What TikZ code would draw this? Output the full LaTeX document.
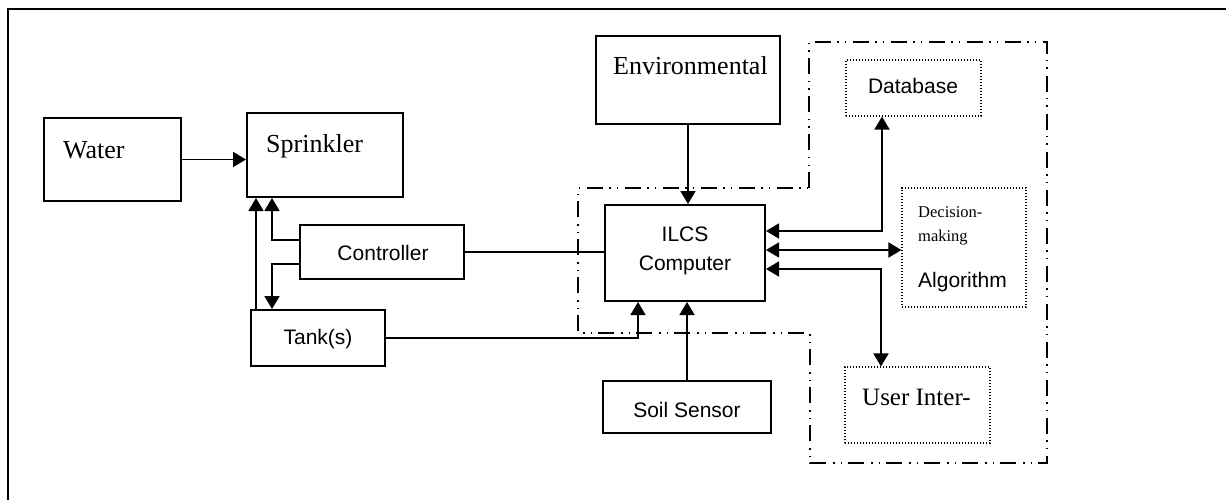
\documentclass[tikz,border=0pt]{standalone}
\usepackage{fontspec}
\setmainfont{Liberation Serif}
\setsansfont{Liberation Sans}
\usetikzlibrary{arrows.meta}
\begin{document}
\begin{tikzpicture}[x=1pt,y=-1pt,
  box/.style={draw,line width=2pt,inner sep=0pt,minimum width=#1},
  dbox/.style={draw,line width=1.1pt,dash pattern=on 1.1pt off 1.9pt,inner sep=0pt,minimum width=#1},
  tm/.style={inner sep=0pt,font=\fontsize{26}{30}\selectfont},
  tms/.style={inner sep=0pt,font=\fontsize{16.5}{20}\selectfont},
  ar/.style={inner sep=0pt,font=\sffamily\fontsize{21}{29}\selectfont},
  arr/.style={line width=1.8pt,-{Triangle[length=13pt,width=15pt]}},
  darr/.style={line width=1.8pt,{Triangle[length=13pt,width=15pt]}-{Triangle[length=13pt,width=15pt]}},
  ddot/.style={line width=1.6pt,dash pattern=on 16pt off 6pt on 1.5pt off 6pt on 1.5pt off 7pt}]
\useasboundingbox (0,0) rectangle (1226,500);
\draw[line width=2.2pt] (8,505) -- (8,9) -- (1230,9);
% boxes
\node[box=137pt,minimum height=83pt] (water) at (112.5,159.5) {};
\node[box=156pt,minimum height=84pt] (sprinkler) at (325,155) {};
\node[box=184pt,minimum height=88pt] (env) at (688,80) {};
\node[box=164pt,minimum height=54pt] (ctrl) at (382,252) {};
\node[box=134pt,minimum height=56pt] (tank) at (318,338) {};
\node[box=160pt,minimum height=96pt] (ilcs) at (685,253) {};
\node[box=168pt,minimum height=52pt] (soil) at (687,407) {};
\node[dbox=135pt,minimum height=56pt] (db) at (913.5,88) {};
\node[dbox=124pt,minimum height=119pt] (dec) at (964,247.5) {};
\node[dbox=145pt,minimum height=76pt] (user) at (917.5,405) {};
% texts
\node[tm,anchor=base west] (twater) at (63,159) {Water};
\node[tm,anchor=base west] (tspr) at (266,153) {Sprinkler};
\node[tm,anchor=base west] (tenv) at (613,75) {Environmental};
\node[ar,anchor=base] (tctrl) at (383,260) {Controller};
\node[ar,anchor=base] (ttank) at (318,344) {Tank(s)};
\node[ar,anchor=base] (tilcs1) at (685,241) {ILCS};
\node[ar,anchor=base] (tilcs2) at (685,270) {Computer};
\node[ar,anchor=base] (tsoil) at (687,417) {Soil Sensor};
\node[ar,anchor=base] (tdb) at (913,94) {Database};
\node[tms,anchor=base west] (tdec1) at (918,217) {Decision-};
\node[tms,anchor=base west] (tdec2) at (918,241) {making};
\node[ar,anchor=base west] (tdec3) at (918,287) {Algorithm};
\node[tm,anchor=base west,font=\fontsize{25}{30}\selectfont] (tuser) at (862,405) {User Inter-};
% dash-dot region
\draw[ddot] (809,188) -- (809,42) -- (1047,42) -- (1047,463) -- (810,463) -- (810,333) -- (578,333) -- (578,188) -- cycle;
% connectors
\draw[arr] (water.east) -- (sprinkler.west |- water.east);
\draw[arr] ([xshift=6pt]tank.north west) -- ([xshift=10pt]sprinkler.south west);
\draw[arr] ([yshift=12pt]ctrl.west) -| ([xshift=26pt]sprinkler.south west);
\draw[arr] ([yshift=-12pt]ctrl.west) -| ([xshift=22pt]tank.north west);
\draw[line width=1.1pt] (ctrl.east) -- (ilcs.west |- ctrl.east);
\draw[arr,line width=1.3pt] (tank.east) -| ([xshift=34pt]ilcs.south west);
\draw[arr] (env.south) -- (env.south |- ilcs.north);
\draw[arr,line width=1.3pt] (soil.north) -- (soil.north |- ilcs.south);
\draw[darr] ([yshift=22pt]ilcs.east) -| ([xshift=-31.5pt]db.south);
\draw[darr] ([yshift=3pt]ilcs.east) -- ([yshift=3pt]ilcs.east -| dec.west);
\draw[darr] ([yshift=-16pt]ilcs.east) -| ([xshift=-36.5pt]user.north);
\end{tikzpicture}
\end{document}
